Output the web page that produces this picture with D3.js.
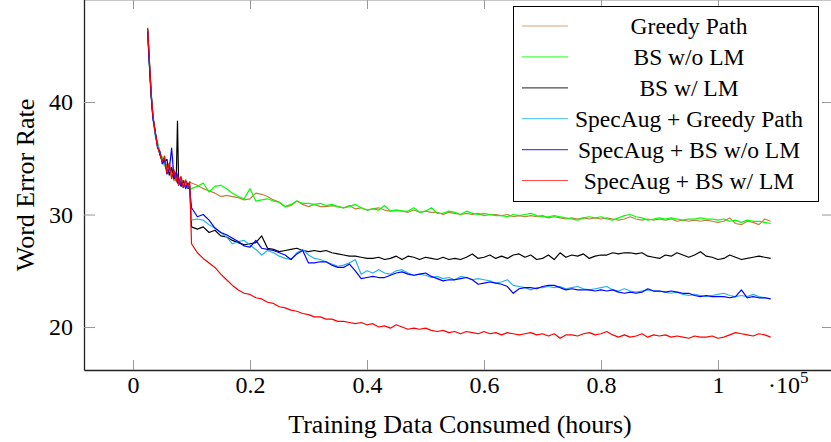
<!DOCTYPE html>
<html>
<head>
<meta charset="utf-8">
<script src="https://cdn.jsdelivr.net/npm/d3@7"></script>
<style>
  body { margin: 0; background: #fff; }
  svg { display: block; font-family: "Liberation Serif", "DejaVu Serif", serif; }
</style>
</head>
<body>
<script>
// training data consumed (x 1e5 hours)
const steps = [0.025,0.028,0.031,0.034,0.038,0.042,0.046,0.05,0.054,0.058,0.062,0.066,0.07,0.074,0.076,0.078,0.082,0.086,0.09,0.094,0.097,
  0.10,0.11,0.12,0.13,0.14,0.15,0.16,0.17,0.18,0.19,
  0.20,0.21,0.22,0.23,0.24,0.25,0.26,0.27,0.28,0.29,
  0.30,0.31,0.32,0.33,0.34,0.35,0.36,0.37,0.38,0.39,
  0.40,0.41,0.42,0.43,0.44,0.45,0.46,0.47,0.48,0.49,
  0.50,0.51,0.52,0.53,0.54,0.55,0.56,0.57,0.58,0.59,
  0.60,0.61,0.62,0.63,0.64,0.65,0.66,0.67,0.68,0.69,
  0.70,0.71,0.72,0.73,0.74,0.75,0.76,0.77,0.78,0.79,
  0.80,0.81,0.82,0.83,0.84,0.85,0.86,0.87,0.88,0.89,
  0.90,0.91,0.92,0.93,0.94,0.95,0.96,0.97,0.98,0.99,
  1.00,1.01,1.02,1.03,1.04,1.05,1.06,1.07,1.08,1.09]

const greedyPath = [46.4,43.6,40.9,38.6,37.3,36.3,35.5,34.9,34.3,34.5,33.6,33.9,33.0,33.4,33.0,32.6,33.3,32.8,33.1,32.6,32.9,
  32.8,32.6,32.3,32.1,31.9,31.6,31.7,31.6,31.5,31.3,
  31.4,31.9,31.8,31.6,31.3,31.1,30.7,30.8,31.2,30.9,
  30.7,30.9,30.7,30.7,30.8,30.7,30.6,30.8,30.5,30.6,
  30.4,30.5,30.6,30.4,30.3,30.4,30.3,30.2,30.4,30.2,
  30.3,30.2,30.2,30.0,30.2,30.1,30.0,30.1,30.0,30.1,
  29.9,30.0,30.0,29.9,30.0,29.8,29.9,29.8,29.9,29.8,
  29.9,29.7,29.8,29.7,29.6,29.7,29.6,29.7,29.6,29.7,
  29.6,29.7,29.6,29.5,29.6,29.8,29.6,29.5,29.6,29.5,
  29.6,29.5,29.6,29.4,29.5,29.4,29.5,29.4,29.5,29.4,
  29.3,29.4,29.7,29.2,29.1,29.4,29.3,29.1,29.6,29.4]

const bsNoLm = [46.3,43.2,40.6,38.9,37.1,36.4,35.4,35.1,34.4,34.0,34.2,33.4,33.6,33.0,33.2,32.9,32.6,33.0,32.5,32.8,32.2,
  32.3,32.5,32.8,32.0,32.5,32.6,32.3,31.9,31.6,31.4,
  32.3,31.2,31.3,31.4,31.2,31.1,30.7,30.9,31.2,31.0,
  31.0,30.9,31.0,30.8,30.9,30.7,30.6,30.7,30.9,30.6,
  30.4,30.5,30.4,30.8,30.3,30.4,30.3,30.3,30.6,30.2,
  30.3,30.6,30.1,30.1,30.3,30.2,30.0,30.3,30.1,30.0,
  30.1,30.0,29.9,29.9,29.8,30.0,29.9,30.0,30.1,29.9,
  29.8,29.8,29.9,29.8,29.7,29.6,29.5,29.7,29.8,29.7,
  29.8,29.6,29.5,29.7,29.9,30.0,29.8,29.7,29.5,29.6,
  29.7,29.6,29.7,29.6,29.5,29.6,29.6,29.7,29.6,29.6,
  29.5,29.6,29.4,29.5,29.3,29.5,29.4,29.4,29.3,29.2]

const bsLm = [46.5,43.4,40.7,38.7,37.2,36.1,35.3,34.8,34.7,34.9,33.5,34.2,33.2,33.3,38.3,32.7,33.0,32.4,32.9,32.3,32.5,
  28.9,28.7,28.9,28.4,28.6,28.1,28.0,27.7,27.5,27.3,
  27.4,27.5,28.1,27.0,26.9,26.7,26.8,26.9,27.0,26.8,
  26.7,26.8,26.7,26.8,26.6,26.5,26.4,26.3,26.3,26.2,
  26.1,26.1,26.2,26.0,26.1,26.3,26.0,26.3,26.2,26.0,
  26.2,26.1,26.0,26.2,26.0,26.1,26.0,26.2,26.5,26.1,
  26.2,26.4,26.1,26.3,26.1,26.4,26.5,26.2,26.4,26.0,
  26.1,26.4,26.0,26.6,26.2,26.4,26.3,26.5,26.1,26.3,
  26.4,26.4,26.6,26.5,26.6,26.6,26.5,26.6,26.3,26.2,
  26.1,26.4,26.3,26.6,26.4,26.2,26.4,26.7,26.3,26.2,
  26.0,26.1,26.4,26.2,26.0,26.1,26.2,26.3,26.2,26.1]

const specGreedy = [46.4,43.5,40.9,38.5,37.0,36.2,35.6,34.8,34.6,33.8,34.3,33.3,33.8,32.9,33.4,32.6,33.2,32.5,32.9,32.4,32.6,
  29.5,29.6,29.5,29.1,28.8,28.4,28.0,27.4,27.6,27.7,
  27.3,26.9,26.4,26.8,26.6,26.3,26.1,26.0,26.6,26.9,
  26.4,26.1,26.0,25.8,25.6,25.4,25.5,25.7,26.0,24.7,
  25.0,24.8,25.1,24.8,24.7,25.0,25.1,24.8,24.6,24.7,
  24.6,24.4,24.5,24.3,24.4,24.2,24.5,24.4,24.2,24.3,
  24.2,24.1,23.9,24.0,24.2,23.7,23.6,23.5,23.3,23.5,
  23.5,23.6,23.5,23.6,23.4,23.5,23.6,23.4,23.3,23.4,
  23.5,23.6,23.3,23.2,23.4,23.2,23.1,23.2,23.3,23.2,
  23.2,23.1,23.0,23.1,22.9,22.8,22.9,22.8,22.7,22.8,
  22.9,23.0,22.8,22.7,22.8,22.7,22.9,22.7,22.6,22.5]

const specBsNoLm = [46.3,43.3,40.5,38.6,37.4,35.9,35.6,34.5,34.9,33.6,34.0,35.9,33.3,33.8,32.8,33.3,32.5,33.0,32.3,32.8,32.2,
  30.6,29.8,30.0,29.5,28.8,28.4,28.2,27.9,27.6,27.2,
  27.1,27.7,27.0,26.9,26.8,26.6,26.4,26.0,26.5,26.8,
  25.7,25.7,25.8,25.8,25.5,25.3,25.3,25.6,25.0,24.3,
  24.4,24.5,24.4,24.4,24.6,24.8,24.9,24.7,24.6,24.7,
  24.8,24.5,24.3,24.1,24.2,24.2,24.3,24.4,24.2,23.8,
  23.9,24.0,23.9,23.8,23.6,23.0,23.4,23.5,23.5,23.4,
  23.6,23.7,23.7,23.5,23.3,23.4,23.3,23.3,23.3,23.2,
  23.3,23.2,23.3,23.1,23.0,23.1,23.0,23.1,23.4,23.2,
  23.2,23.1,23.2,23.1,23.0,23.0,22.8,22.7,22.8,22.7,
  22.7,22.7,22.6,22.7,23.3,22.6,22.7,22.6,22.6,22.5]

const specBsLm = [46.6,43.7,40.8,38.8,37.3,36.0,35.4,34.7,35.2,33.7,34.6,33.2,34.0,33.0,33.6,32.6,33.4,32.4,33.0,32.5,32.9,
  27.4,26.6,26.1,25.7,25.3,24.7,24.2,23.7,23.3,23.0,
  22.9,22.6,22.5,22.2,22.1,21.8,21.7,21.5,21.4,21.2,
  21.1,20.9,20.9,20.7,20.7,20.5,20.5,20.4,20.3,20.4,
  20.2,20.3,20.0,20.1,19.9,20.2,20.0,19.8,19.9,19.8,
  19.9,19.7,19.6,19.7,19.5,19.6,19.4,19.6,19.5,19.4,
  19.6,19.4,19.5,19.3,19.5,19.4,19.3,19.4,19.5,19.3,
  19.4,19.2,19.4,19.0,19.3,19.3,19.2,19.4,19.5,19.3,
  19.4,19.6,19.3,19.1,19.3,19.1,19.2,19.4,19.1,19.3,
  19.2,19.3,19.1,19.2,19.1,19.0,19.2,19.1,19.1,19.2,
  19.0,19.1,19.3,19.5,19.4,19.3,19.2,19.4,19.3,19.1]

const seriesNames = ['Greedy Path', 'BS w/o LM', 'BS w/ LM', 'SpecAug + Greedy Path', 'SpecAug + BS w/o LM', 'SpecAug + BS w/ LM']
const seriesColors = ['#bf8040', '#00ff00', '#000000', '#2ab0f0', '#0000ff', '#ff0000']
const seriesValues = [greedyPath, bsNoLm, bsLm, specGreedy, specBsNoLm, specBsLm]

const xTicks = [0, 0.2, 0.4, 0.6, 0.8, 1]
const yTicks = [20, 30, 40]

const width = 831, height = 442

const svg = d3.select('body').append('svg')
  .attr('width', width)
  .attr('height', height)

const x = d3.scaleLinear().domain([-0.0838, 1.1949]).range([84, 832])
const y = d3.scaleLinear().domain([16.18, 49.16]).range([370, -1])

// lines
const line = d3.line().x(d => x(d[0])).y(d => y(d[1]))
seriesValues.forEach((vals, i) => {
  svg.append('path')
    .datum(steps.map((s, j) => [s, vals[j]]))
    .attr('fill', 'none')
    .attr('stroke', seriesColors[i])
    .attr('stroke-width', 1.2)
    .attr('stroke-linejoin', 'round')
    .attr('d', line)
})

// axes, ticks point inward on all four sides
const styleAxis = g => {
  g.select('.domain').attr('stroke', '#222').attr('stroke-width', 1.3)
  g.selectAll('.tick line').attr('stroke', '#999').attr('stroke-width', 1)
  g.selectAll('.tick text').attr('fill', '#000').style('font-family', '"Liberation Serif", serif').style('font-size', '24px')
}

svg.append('g')
  .attr('transform', 'translate(0,370)')
  .call(d3.axisBottom(x).tickValues(xTicks).tickSize(-10).tickSizeOuter(0).tickPadding(6).tickFormat(d3.format('')))
  .call(styleAxis)

svg.append('g')
  .attr('transform', 'translate(0,-1)')
  .call(d3.axisTop(x).tickValues(xTicks).tickSize(-10).tickSizeOuter(0).tickFormat(''))
  .call(styleAxis)

svg.append('g')
  .attr('transform', 'translate(84,0)')
  .call(d3.axisLeft(y).tickValues(yTicks).tickSize(-11).tickSizeOuter(0).tickPadding(11))
  .call(styleAxis)

svg.append('g')
  .attr('transform', 'translate(832,0)')
  .call(d3.axisRight(y).tickValues(yTicks).tickSize(-10).tickSizeOuter(0).tickFormat(''))
  .call(styleAxis)

// scale factor label
const sci = svg.append('text')
  .attr('x', 768)
  .attr('y', 393)
  .attr('font-size', 24)
  .text('·10')
sci.append('tspan')
  .attr('dy', -10)
  .attr('font-size', 17)
  .text('5')

// axis titles
svg.append('text')
  .attr('x', 460)
  .attr('y', 433)
  .attr('text-anchor', 'middle')
  .attr('font-size', 26)
  .text('Training Data Consumed (hours)')

svg.append('text')
  .attr('transform', 'translate(34,185) rotate(-90)')
  .attr('text-anchor', 'middle')
  .attr('font-size', 26)
  .text('Word Error Rate')

// legend
const legend = svg.append('g')
legend.append('rect')
  .attr('x', 513.5)
  .attr('y', 6.5)
  .attr('width', 305)
  .attr('height', 195)
  .attr('fill', '#fff')
  .attr('stroke', '#000')
  .attr('stroke-width', 1)

seriesNames.forEach((name, i) => {
  const cy = 26 + i * 30.9
  legend.append('line')
    .attr('x1', 522).attr('x2', 568)
    .attr('y1', cy).attr('y2', cy)
    .attr('stroke', seriesColors[i])
    .attr('stroke-opacity', 0.7)
    .attr('stroke-width', 1.2)
  legend.append('text')
    .attr('x', 689)
    .attr('y', cy + 8)
    .attr('text-anchor', 'middle')
    .attr('font-size', 23.5)
    .text(name)
})
</script>
</body>
</html>
